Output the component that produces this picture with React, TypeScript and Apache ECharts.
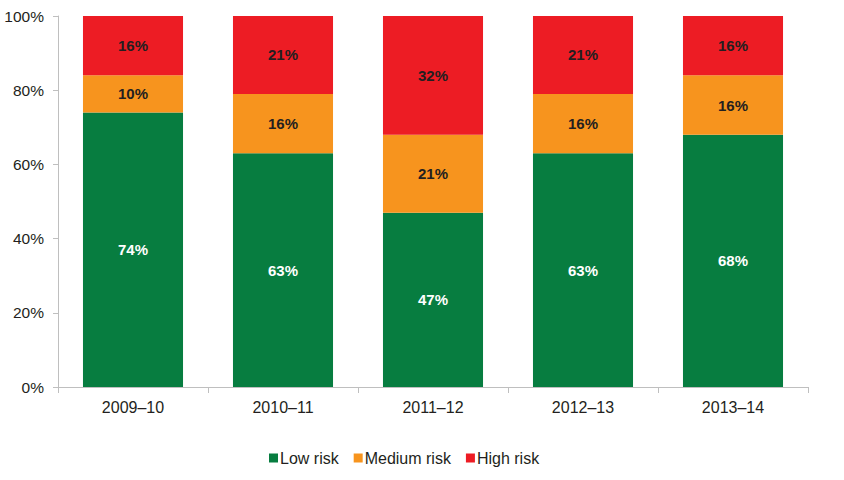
import React, { useEffect, useRef } from "react";
import * as echarts from "echarts";

const categories = ["2009–10", "2010–11", "2011–12", "2012–13", "2013–14"];
const lowRisk = [74, 63, 47, 63, 68];
const mediumRisk = [10, 16, 21, 16, 16];
const highRisk = [16, 21, 32, 21, 16];
const yTicks = [0, 20, 40, 60, 80, 100];

const FONT = "Liberation Sans, Arial, sans-serif";
const TEXT = "#231f20";

export default function App() {
  const ref = useRef<HTMLDivElement>(null);
  useEffect(() => {
    if (!ref.current) return;
    const chart = echarts.init(ref.current, undefined, { renderer: "svg" });
    const labelDark = {
      show: true,
      position: "inside",
      formatter: "{c}%",
      color: TEXT,
      fontFamily: FONT,
      fontWeight: "bold",
      fontSize: 15,
    };
    chart.setOption({
      animation: false,
      textStyle: { fontFamily: FONT },
      grid: { left: 58, right: 36, top: 16, bottom: 93, containLabel: false },
      legend: {
        left: 264,
        top: 445,
        itemWidth: 9,
        itemHeight: 9,
        itemGap: 15,
        icon: "rect",
        textStyle: { color: TEXT, fontSize: 16, fontFamily: FONT, padding: [0, 0, 0, -3] },
        data: ["Low risk", "Medium risk", "High risk"],
      },
      xAxis: {
        type: "category",
        data: categories,
        axisLine: { lineStyle: { color: "#bfbfbf", width: 1 } },
        axisTick: { show: true, length: 6, alignWithLabel: false, lineStyle: { color: "#bfbfbf" } },
        axisLabel: { color: TEXT, fontSize: 16, fontFamily: FONT, margin: 12 },
      },
      yAxis: {
        type: "value",
        min: yTicks[0],
        max: yTicks[yTicks.length - 1],
        interval: 20,
        axisLine: { show: true, lineStyle: { color: "#bfbfbf", width: 1 } },
        axisTick: { show: true, length: 5, lineStyle: { color: "#bfbfbf" } },
        splitLine: { show: false },
        axisLabel: { color: TEXT, fontSize: 15.5, fontFamily: FONT, margin: 14, formatter: "{value}%" },
      },
      series: [
        {
          name: "Low risk",
          type: "bar",
          stack: "total",
          data: lowRisk,
          barCategoryGap: "33.3%",
          itemStyle: { color: "#077d40" },
          label: { ...labelDark, color: "#ffffff" },
        },
        {
          name: "Medium risk",
          type: "bar",
          stack: "total",
          data: mediumRisk,
          barCategoryGap: "33.3%",
          itemStyle: { color: "#f7941e" },
          label: labelDark,
        },
        {
          name: "High risk",
          type: "bar",
          stack: "total",
          data: highRisk,
          barCategoryGap: "33.3%",
          itemStyle: { color: "#ed1c24" },
          label: labelDark,
        },
      ],
    });
    return () => chart.dispose();
  }, []);
  return (
    <div
      ref={ref}
      style={{ position: "fixed", left: 0, top: 0, width: 844, height: 480, background: "#ffffff" }}
    />
  );
}
